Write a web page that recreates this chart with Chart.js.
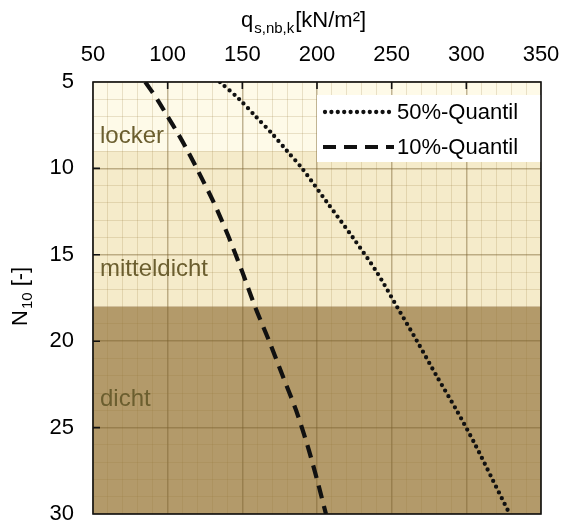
<!DOCTYPE html>
<html>
<head>
<meta charset="utf-8">
<script src="https://cdn.jsdelivr.net/npm/chart.js@4.4.1/dist/chart.umd.min.js"></script>
<style>
    html, body { margin: 0; padding: 0; background: #fff; }
    #wrap { width: 563px; height: 526px; }
</style>
</head>
<body>
<div id="wrap"><canvas id="myChart" width="563" height="526"></canvas></div>
<script>
// N10 values (y axis) and the two quantile curves (q in kN/m²)
const nValues = [5, 6, 7, 8, 9, 10, 12, 14, 16, 18, 20, 22, 24, 26, 28, 30]
const q50 = [135, 148, 159, 170, 180, 190, 207, 224, 240, 253.5, 267, 280, 293.5, 306, 317.5, 329]
const q10 = [85, 93, 100, 107, 113.5, 119.5, 131, 141, 150, 158.5, 168, 177, 186, 193.5, 200, 206]

const xTicks = [50, 100, 150, 200, 250, 300, 350]
const yTicks = [5, 10, 15, 20, 25, 30]

// density bands
const bandNames = ['locker', 'mitteldicht', 'dicht']
const bandFrom = [5, 9, 18]
const bandTo = [9, 18, 30]
const bandLabelN = [8.55, 16.2, 23.75]

const bandColors = ['#fefae8', '#f5ebca', '#b39a6a']
const FONT = '"Liberation Sans", Arial, sans-serif'

function toPoints(xs) {
    return nValues.map((n, i) => ({ x: xs[i], y: n }))
}

const bandsPlugin = {
    id: 'bands',
    beforeDraw(chart) {
        const { ctx, chartArea, scales } = chart
        ctx.save()
        bandNames.forEach((name, i) => {
            const top = scales.y.getPixelForValue(bandFrom[i])
            const bottom = scales.y.getPixelForValue(bandTo[i])
            ctx.fillStyle = bandColors[i]
            ctx.fillRect(chartArea.left, top, chartArea.right - chartArea.left, bottom - top)
        })
        ctx.restore()
    },
    afterDatasetsDraw(chart) {
        const { ctx, chartArea, scales } = chart
        ctx.save()
        // band names
        ctx.font = '24px ' + FONT
        ctx.fillStyle = '#6b5e2f'
        ctx.textBaseline = 'alphabetic'
        bandNames.forEach((name, i) => {
            ctx.fillText(name, chartArea.left + 7, scales.y.getPixelForValue(bandLabelN[i]))
        })

        // legend box
        const lx = 317, ly = 95
        ctx.fillStyle = '#fff'
        ctx.fillRect(lx, ly, chartArea.right - lx, 67)
        ctx.font = '22px ' + FONT
        ctx.fillStyle = '#000'
        ctx.textBaseline = 'middle'
        chart.data.datasets.forEach((ds, i) => {
            const y = ly + 17 + i * 35
            ctx.beginPath()
            ctx.lineWidth = ds.borderWidth
            ctx.lineCap = ds.borderCapStyle
            ctx.setLineDash(ds.borderDash)
            ctx.strokeStyle = ds.borderColor
            ctx.moveTo(i === 0 ? 325 : 323, y)
            ctx.lineTo(394, y)
            ctx.stroke()
            ctx.setLineDash([])
            ctx.fillText(ds.label, 397, y + 1)
        })

        // frame and inward ticks
        ctx.strokeStyle = '#111'
        ctx.lineWidth = 1.6
        ctx.lineCap = 'butt'
        ctx.strokeRect(chartArea.left, chartArea.top, chartArea.right - chartArea.left, chartArea.bottom - chartArea.top)
        ctx.beginPath()
        xTicks.slice(1, -1).forEach(v => {
            const x = scales.x.getPixelForValue(v)
            ctx.moveTo(x, chartArea.top)
            ctx.lineTo(x, chartArea.top + 7)
        })
        yTicks.slice(1, -1).forEach(v => {
            const y = scales.y.getPixelForValue(v)
            ctx.moveTo(chartArea.left, y)
            ctx.lineTo(chartArea.left + 7, y)
        })
        ctx.stroke()

        // axis titles
        ctx.fillStyle = '#000'
        ctx.textBaseline = 'alphabetic'
        ctx.textAlign = 'left'
        let x = 241
        ctx.font = '22px ' + FONT
        ctx.fillText('q', x, 27)
        x += ctx.measureText('q').width + 1
        ctx.font = '15px ' + FONT
        ctx.fillText('s,nb,k', x, 33)
        x += ctx.measureText('s,nb,k').width + 1
        ctx.font = '22px ' + FONT
        ctx.fillText('[kN/m²]', x, 27)

        ctx.translate(27, 326)
        ctx.rotate(-Math.PI / 2)
        let t = 0
        ctx.fillText('N', t, 0)
        t += ctx.measureText('N').width + 1
        ctx.font = '15px ' + FONT
        ctx.fillText('10', t, 5)
        t += ctx.measureText('10').width
        ctx.font = '22px ' + FONT
        ctx.fillText(' [-]', t, 0)
        ctx.restore()
    }
}

const ctx = document.getElementById('myChart')

new Chart(ctx, {
    type: 'scatter',
    data: {
        datasets: [{
            label: '50%-Quantil',
            data: toPoints(q50),
            showLine: true,
            borderColor: '#111',
            borderWidth: 4.3,
            borderDash: [0, 6.4],
            borderCapStyle: 'round',
            pointRadius: 0,
            tension: 0.3
        }, {
            label: '10%-Quantil',
            data: toPoints(q10),
            showLine: true,
            borderColor: '#111',
            borderWidth: 4.2,
            borderDash: [13, 8],
            borderCapStyle: 'butt',
            pointRadius: 0,
            tension: 0.3
        }]
    },
    options: {
        responsive: false,
        animation: false,
        devicePixelRatio: 1,
        layout: { padding: { left: 0, top: 0, right: 22, bottom: 12 } },
        plugins: {
            legend: { display: false },
            tooltip: { enabled: false }
        },
        scales: {
            x: {
                type: 'linear',
                position: 'top',
                min: 50,
                max: 350,
                afterFit: scale => {
                    scale.height = 82
                    scale.paddingLeft = 0
                    scale.paddingRight = 0
                },
                border: { display: false },
                grid: {
                    drawTicks: false,
                    color: c => c.tick && c.tick.value % 50 === 0 ? 'rgba(120,95,45,0.45)' : 'rgba(150,120,60,0.2)',
                    lineWidth: c => c.tick && c.tick.value % 50 === 0 ? 1.5 : 1
                },
                ticks: {
                    stepSize: 10,
                    autoSkip: false,
                    maxRotation: 0,
                    padding: 14,
                    color: '#000',
                    font: { family: FONT, size: 22 },
                    callback: v => xTicks.includes(v) ? v : ''
                }
            },
            y: {
                type: 'linear',
                reverse: true,
                min: 5,
                max: 30,
                afterFit: scale => {
                    scale.width = 93
                    scale.paddingTop = 0
                    scale.paddingBottom = 0
                },
                border: { display: false },
                grid: {
                    drawTicks: false,
                    color: c => c.tick && c.tick.value % 5 === 0 ? 'rgba(120,95,45,0.45)' : 'rgba(150,120,60,0.2)',
                    lineWidth: c => c.tick && c.tick.value % 5 === 0 ? 1.5 : 1
                },
                ticks: {
                    stepSize: 1,
                    autoSkip: false,
                    padding: 19,
                    color: '#000',
                    font: { family: FONT, size: 22 },
                    callback: v => yTicks.includes(v) ? v : ''
                }
            }
        }
    },
    plugins: [bandsPlugin]
})
</script>
</body>
</html>
